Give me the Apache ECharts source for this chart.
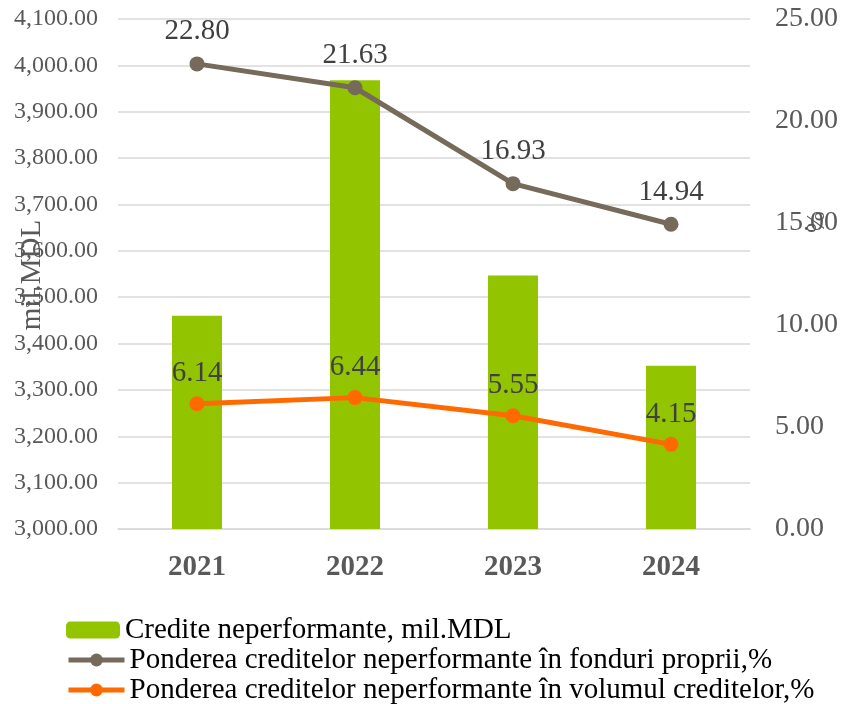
<!DOCTYPE html>
<html>
<head>
<meta charset="utf-8">
<script src="https://cdn.jsdelivr.net/npm/echarts@6/dist/echarts.min.js"></script>
<style>html,body{margin:0;padding:0;background:#fff}#c{width:846px;height:704px}</style>
</head>
<body>
<div id="c"></div>
<script>
const categories = ['2021', '2022', '2023', '2024'];
const crediteNeperformante = [3460, 3968, 3547, 3352];
const ponderereFonduri = [22.80, 21.63, 16.93, 14.94];
const ponderereVolum = [6.14, 6.44, 5.55, 4.15];
const seriesNames = [
  'Credite neperformante, mil.MDL',
  'Ponderea creditelor neperformante în fonduri proprii,%',
  'Ponderea creditelor neperformante în volumul creditelor,%'
];
const leftAxisName = 'mil.MDL';
const rightAxisName = '%';

const FONT = '"Liberation Serif", "Times New Roman", serif';
const chart = echarts.init(document.getElementById('c'));
const fmtLeft = v => v.toLocaleString('en-US', {minimumFractionDigits: 2, maximumFractionDigits: 2});
const legendText = {fontFamily: FONT, fontSize: 29, color: '#000', lineHeight: 30};
const mkLegend = (i, top, iw, ih) => ({
  orient: 'vertical', left: 66, top: top, itemGap: 0, padding: 0,
  itemWidth: iw, itemHeight: ih, textStyle: legendText, data: [seriesNames[i]], selectedMode: false,
  lineStyle: {width: 5}
});
chart.setOption({
  animation: false,
  textStyle: {fontFamily: FONT},
  grid: {left: 118, right: 96, top: 19, bottom: 175, containLabel: false, outerBoundsMode: 'none'},
  legend: [mkLegend(0, 615, 54, 17), mkLegend(1, 645, 56, 16), mkLegend(2, 675, 56, 16)],
  xAxis: {
    type: 'category', data: categories,
    axisLine: {lineStyle: {color: '#d9d9d9', width: 1.5}},
    axisTick: {show: false},
    axisLabel: {fontFamily: FONT, fontSize: 29, fontWeight: 'bold', color: '#595959', margin: 24}
  },
  yAxis: [{
    type: 'value', min: 3000, max: 4100, interval: 100,
    axisLine: {show: false}, axisTick: {show: false},
    axisLabel: {fontFamily: FONT, fontSize: 24, color: '#595959', margin: 20, formatter: fmtLeft},
    splitLine: {lineStyle: {color: '#d9d9d9', width: 1.5}}
  }, {
    type: 'value', min: 0, max: 25, interval: 5,
    axisLine: {show: false}, axisTick: {show: false},
    axisLabel: {fontFamily: FONT, fontSize: 28, color: '#595959', margin: 25, formatter: v => v.toFixed(2)},
    splitLine: {show: false}
  }],
  graphic: [{
    type: 'text', x: 32, y: 275, rotation: Math.PI / 2, z: 100,
    style: {text: leftAxisName, fontFamily: FONT, fontSize: 29, fill: '#595959', align: 'center', verticalAlign: 'middle'}
  }, {
    type: 'text', x: 814, y: 222, rotation: -Math.PI / 2, z: 100,
    style: {text: rightAxisName, fontFamily: FONT, fontSize: 26, fill: '#595959', align: 'center', verticalAlign: 'middle'}
  }],
  series: [{
    name: seriesNames[0], type: 'bar', yAxisIndex: 0, data: crediteNeperformante,
    barWidth: 50, itemStyle: {color: '#92C400'}
  }, {
    name: seriesNames[1], type: 'line', yAxisIndex: 1, data: ponderereFonduri,
    symbol: 'circle', symbolSize: 15,
    lineStyle: {color: '#766A5A', width: 5}, itemStyle: {color: '#766A5A'},
    label: {show: true, position: 'top', distance: 10, fontFamily: FONT, fontSize: 29, color: '#404040', formatter: p => p.value.toFixed(2)}
  }, {
    name: seriesNames[2], type: 'line', yAxisIndex: 1, data: ponderereVolum,
    symbol: 'circle', symbolSize: 15,
    lineStyle: {color: '#FF6A00', width: 5}, itemStyle: {color: '#FF6A00'},
    label: {show: true, position: 'top', distance: 8, fontFamily: FONT, fontSize: 29, color: '#404040', formatter: p => p.value.toFixed(2)}
  }]
});
</script>
</body>
</html>
